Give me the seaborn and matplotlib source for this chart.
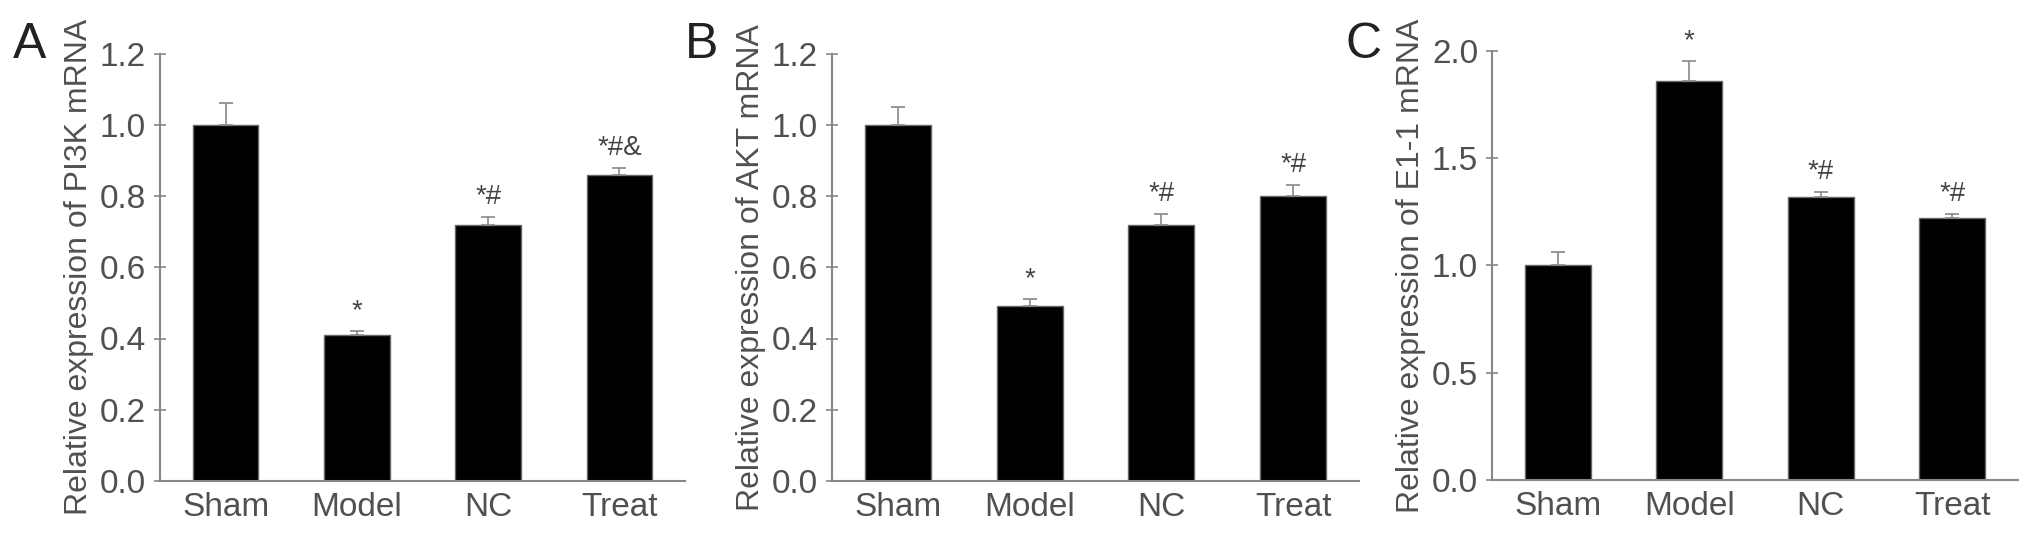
import pandas as pd
import matplotlib
matplotlib.use("Agg")
import matplotlib.pyplot as plt
import seaborn as sns

# data
groups = ["Sham", "Model", "NC", "Treat"]

pi3k_mean = [1.00, 0.41, 0.72, 0.86]
pi3k_err = [0.06, 0.01, 0.02, 0.02]
pi3k_marks = ["", "*", "*#", "*#&"]

akt_mean = [1.00, 0.49, 0.72, 0.80]
akt_err = [0.05, 0.02, 0.03, 0.03]
akt_marks = ["", "*", "*#", "*#"]

e11_mean = [1.00, 1.86, 1.32, 1.22]
e11_err = [0.06, 0.09, 0.02, 0.02]
e11_marks = ["", "*", "*#", "*#"]

sns.set_style("white")
plt.rcParams["font.family"] = ["Liberation Sans", "DejaVu Sans"]

grey = "#505050"
W, H = 2032, 541
fig = plt.figure(figsize=(W / 100, H / 100), dpi=100)

panels = [
    ("A", pi3k_mean, pi3k_err, pi3k_marks, "Relative expression of PI3K mRNA",
     1.2, [0, 0.2, 0.4, 0.6, 0.8, 1.0, 1.2], (160, 685, 481, 53.5)),
    ("B", akt_mean, akt_err, akt_marks, "Relative expression of AKT mRNA",
     1.2, [0, 0.2, 0.4, 0.6, 0.8, 1.0, 1.2], (832, 1359, 481, 53.5)),
    ("C", e11_mean, e11_err, e11_marks, "Relative expression of E1-1 mRNA",
     2.0, [0, 0.5, 1.0, 1.5, 2.0], (1492, 2018, 480, 50.7)),
]

for letter, mean, err, marks, ylabel, ymax, yticks, box in panels:
    x0, x1, yb, yt = box
    ax = fig.add_axes([x0 / W, (H - yb) / H, (x1 - x0) / W, (yb - yt) / H])
    df = pd.DataFrame({"group": groups, "value": mean})
    sns.barplot(data=df, x="group", y="value", color="black", width=0.5,
                edgecolor="#666666", linewidth=1, saturation=1, errorbar=None, ax=ax)
    # upper-only error bars
    ax.errorbar(range(len(groups)), mean, yerr=[[0] * len(err), err], fmt="none",
                ecolor="#888888", elinewidth=1.2, capsize=5, capthick=1.2, zorder=1)
    for i, m in enumerate(marks):
        if m:
            ax.annotate(m, (i, mean[i] + err[i]), xytext=(0, 5), textcoords="offset points",
                        ha="center", va="bottom", fontsize=20, color="#444444")
    ax.set_xlim(-0.5, 3.5)
    ax.set_ylim(0, ymax)
    ax.set_yticks(yticks)
    ax.set_yticklabels([f"{v:.1f}" for v in yticks])
    ax.set_xlabel("")
    ax.set_ylabel(ylabel, fontsize=23, color=grey, labelpad=4)
    ax.tick_params(axis="y", direction="inout", length=8, width=1.2, color="#888888",
                   labelsize=24, labelcolor=grey, pad=6, left=True)
    ax.tick_params(axis="x", length=0, labelsize=24, labelcolor=grey, pad=8)
    for s in ["top", "right"]:
        ax.spines[s].set_visible(False)
    for s in ["left", "bottom"]:
        ax.spines[s].set_color("#888888")
        ax.spines[s].set_linewidth(1.5)
    fig.text((x0 - 147) / W, (H - 45) / H, letter, fontsize=36, color="#222222",
             ha="left", va="center")

fig.savefig("out.png", dpi=100, facecolor="white")
